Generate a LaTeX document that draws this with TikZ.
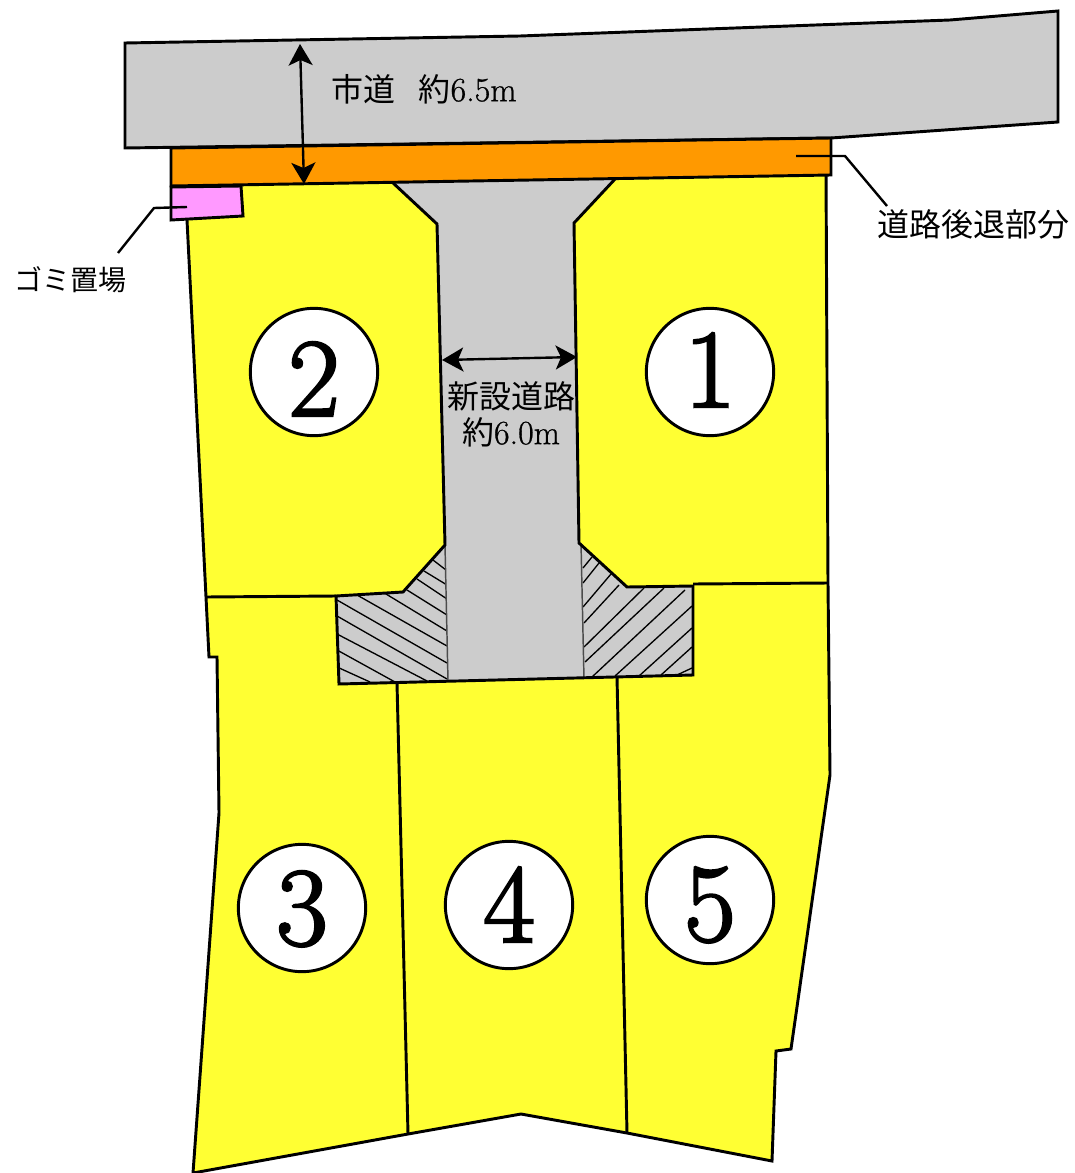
\documentclass[tikz,border=0pt]{standalone}
\usepackage{fontspec}
\usetikzlibrary{arrows.meta}
\newfontfamily\jpfont{Noto Sans CJK JP}
\newfontfamily\numfont[FakeBold=2.2]{Latin Modern Roman}
\newfontfamily\latfont[FakeBold=.8]{Latin Modern Roman}
\newcommand{\jp}[1]{{\jpfont\fontsize{24}{27}\selectfont #1}}
\definecolor{lotyellow}{HTML}{FFFF33}
\definecolor{setbackorange}{HTML}{FF9900}
\definecolor{roadgray}{HTML}{CCCCCC}
\definecolor{binpink}{HTML}{FF99FF}

\begin{document}
\begin{tikzpicture}[x=.75pt,y=-.75pt,>={Stealth[length=16pt,width=18pt,inset=4pt]}]
\tikzstyle{outline}=[draw=black,line width=2.2pt]
\tikzstyle{hatchline}=[draw=black,line width=1pt]
\tikzstyle{edgeline}=[draw=black!70,line width=1.1pt]
\tikzstyle{leader}=[draw=black,line width=1.8pt]
\tikzstyle{measure}=[draw=black,line width=1.8pt,<->]
\tikzstyle{lotnum}=[circle,draw=black,line width=2.2pt,fill=white,minimum size=95.5pt,inner sep=0pt,text height=55.5pt,text depth=0pt,font=\numfont\fontsize{84}{84}\selectfont]
\tikzstyle{caption}=[inner sep=0pt,text=black,font=\latfont\fontsize{25.5}{27}\selectfont]
\useasboundingbox (0,0) rectangle (1074,1173);
% city road
\path[outline,fill=roadgray] (125,43)--(520,36)--(950,20)--(1058,11)--(1058,122)--(831,138)--(125,148)--cycle;
% yellow lots
\path[outline,fill=lotyellow] (186,180)--(187,220)--(206,597)--(209,657)--(217,657)--(219,813)--(193,1173)--(408,1134)--(521,1114)
  --(627,1133)--(772,1161)--(776,1051)--(791,1049)--(830,775)--(828,584)--(826,170)--cycle;
% new road
\path[fill=roadgray] (392,182)--(616,178)--(574,223)--(579,543)--(627,587)--(693,586)--(693,675)--(339,684)--(336,596)
  --(403,592)--(445,545)--(437,224)--cycle;
\begin{scope}
\clip (445,545)--(403,592)--(336,596)--(339,684)--(448,681)--cycle;
\foreach \xa/\ya/\xb/\yb in {337/667/370/682,337/650/395/682,337/634/427/681,337/616/447/679,337/600/447/663,
  357/595/447/646,386/594/447/631,407/590/447/615,417/579/447/599,424/571/447/585,433/560/446/570}
  \draw[hatchline] (\xa,\ya)--(\xb,\yb);
\end{scope}
\begin{scope}
\clip (581,543)--(627,587)--(693,586)--(693,675)--(584,679)--cycle;
\foreach \xa/\ya/\xb/\yb in {583/568/592/557,583/583/599/563,583/607/611/574,584/623/619/585,584/647/644/588,585/662/664/588,
  592/677/685/590,615/676/692/606,639/676/692/628,661/675/692/647,677/675/692/668}
  \draw[hatchline] (\xa,\ya)--(\xb,\yb);
\end{scope}
\draw[edgeline] (445,545)--(448,681);
\draw[edgeline] (581,543)--(584,679);
\path[outline] (392,182)--(437,224)--(445,545)--(403,592)--(336,596)--(339,684)--(693,675)--(693,586)--(627,587)--(579,543)--(574,223)--(616,178);
% lot borders
\draw[outline] (206,597)--(336,596);
\draw[outline] (397,683)--(408,1134);
\draw[outline] (617,677)--(627,1133);
\draw[outline] (693,584)--(828,583);
% setback strip and bin area
\path[outline,fill=setbackorange] (171,148)--(831,138)--(831,175)--(171,186)--cycle;
\path[outline,fill=binpink] (171,187)--(241,186)--(243,216)--(171,220)--cycle;
% lot numbers
\node[lotnum,text depth=3pt] (lotA) at (710,372) {1};
\node[lotnum,text height=66pt] (lotB) at (314,372) {2};
\node[lotnum] (lotC) at (302,908) {3};
\node[lotnum] (lotD) at (509,905) {4};
\node[lotnum,text height=61.5pt] (lotE) at (710,900) {5};
% labels
\node[caption,anchor=west] (cityroad) at (331,89) {\jp{市道}\hspace{17.5pt}\jp{約}6.5m};
\node[caption,align=center] (newroad) at (511,414) {\jp{新設道路}\\\jp{約}6.0m};
\node[caption] (setback) at (973,224) {\jp{道路後退部分}};
\node[caption,font=\fontsize{21}{24}\selectfont] (binarea) at (70,280) {{\jpfont ゴミ置場}};
% leaders and widths
\coordinate (binin) at (187,207);
\coordinate (binbend) at (154,208);
\coordinate (binout) at (118,253);
\coordinate (backin) at (796,156);
\coordinate (backbend) at (845,156);
\coordinate (backout) at (887,206);
\draw[leader] (binin)--(binbend)--(binout);
\draw[leader] (backin)--(backbend)--(backout);
\coordinate (citytop) at (300,44);
\coordinate (citybot) at (304,184);
\coordinate (newleft) at (442,360);
\coordinate (newright) at (577,357);
\draw[measure] (citytop)--(citybot);
\draw[measure] (newleft)--(newright);
\end{tikzpicture}
\end{document}
